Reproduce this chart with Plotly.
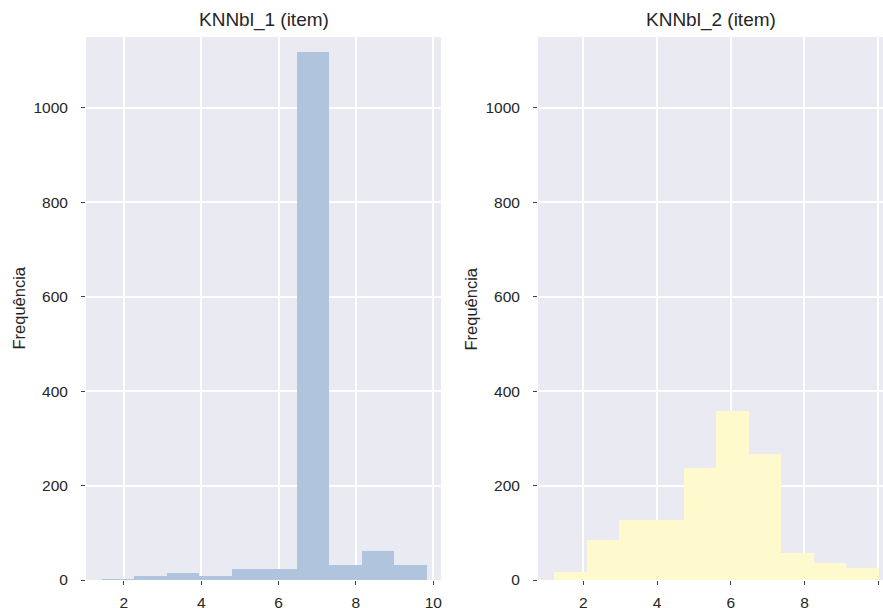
import plotly.graph_objects as go

# Data
titles = ["KNNbl_1 (item)", "KNNbl_2 (item)"]
edges_1 = [1.43, 2.27, 3.11, 3.95, 4.79, 5.63, 6.47, 7.31, 8.15, 8.99, 9.83]
counts_1 = [2, 8, 14, 8, 24, 24, 1118, 31, 62, 31]
edges_2 = [1.21, 2.09, 2.97, 3.85, 4.73, 5.61, 6.49, 7.37, 8.25, 9.13, 10.02]
counts_2 = [16, 84, 128, 127, 237, 357, 267, 58, 35, 26]
x_ticks = [2, 4, 6, 8, 10]
y_ticks = [0, 200, 400, 600, 800, 1000]
colors = ["#B0C4DE", "#FFFACD"]

def centers(e):
    return [(e[i] + e[i + 1]) / 2 for i in range(len(e) - 1)]

def widths(e):
    return [e[i + 1] - e[i] for i in range(len(e) - 1)]

fig = go.Figure()
fig.add_trace(go.Bar(x=centers(edges_1), y=counts_1, width=widths(edges_1),
                     marker=dict(color=colors[0], line=dict(width=0)),
                     xaxis="x", yaxis="y", showlegend=False))
fig.add_trace(go.Bar(x=centers(edges_2), y=counts_2, width=widths(edges_2),
                     marker=dict(color=colors[1], line=dict(width=0)),
                     xaxis="x2", yaxis="y2", showlegend=False))

family = "Liberation Sans, Arial, sans-serif"
tfont = dict(family=family, size=15.5, color="#262626")
axis_common = dict(showgrid=True, gridcolor="white", gridwidth=1.5, zeroline=False,
                   showline=False, ticks="outside", ticklen=4, tickcolor="#444444",
                   tickfont=tfont, automargin=False)

W, H = 883, 608
L1, R1 = 86 / W, 441 / W
L2, R2 = 538 / W, 1.0
top, bot = 37, 28
plot_h = H - top - bot
ty = (H - bot - 20) / plot_h

fig.update_layout(
    template="none",
    width=W, height=H,
    margin=dict(l=0, r=0, t=top, b=bot, autoexpand=False),
    paper_bgcolor="white", plot_bgcolor="#EAEAF2",
    bargap=0, font=tfont,
    xaxis=dict(domain=[L1, R1], range=[1.02, 10.2], tickvals=x_ticks, anchor="y",
               ticklabelstandoff=4, **axis_common),
    yaxis=dict(domain=[0, 1], range=[0, 1150], tickvals=y_ticks, anchor="x",
               ticklabelstandoff=10, **axis_common),
    xaxis2=dict(domain=[L2, R2], range=[0.77, 10.13], tickvals=x_ticks, anchor="y2",
                ticklabelstandoff=4, **axis_common),
    yaxis2=dict(domain=[0, 1], range=[0, 1150], tickvals=y_ticks, anchor="x2",
                ticklabelstandoff=10, **axis_common),
    annotations=[
        dict(text=titles[0], x=(L1 + R1) / 2, y=ty, xref="paper", yref="paper",
             xanchor="center", yanchor="middle", showarrow=False,
             font=dict(family=family, size=19, color="#262626")),
        dict(text=titles[1], x=(L2 + R2) / 2, y=ty, xref="paper", yref="paper",
             xanchor="center", yanchor="middle", showarrow=False,
             font=dict(family=family, size=19, color="#262626")),
        dict(text="Frequência", x=18 / W, y=0.5, xref="paper", yref="paper", textangle=-90,
             xanchor="center", yanchor="middle", showarrow=False,
             font=dict(family=family, size=16.5, color="#262626")),
        dict(text="Frequência", x=470 / W, y=0.5, xref="paper", yref="paper", textangle=-90,
             xanchor="center", yanchor="middle", showarrow=False,
             font=dict(family=family, size=16.5, color="#262626")),
    ],
)

fig.write_html(
    "out.html",
    config={"displayModeBar": False},
    post_script="document.body.style.margin='0';document.body.style.overflow='hidden';",
)
